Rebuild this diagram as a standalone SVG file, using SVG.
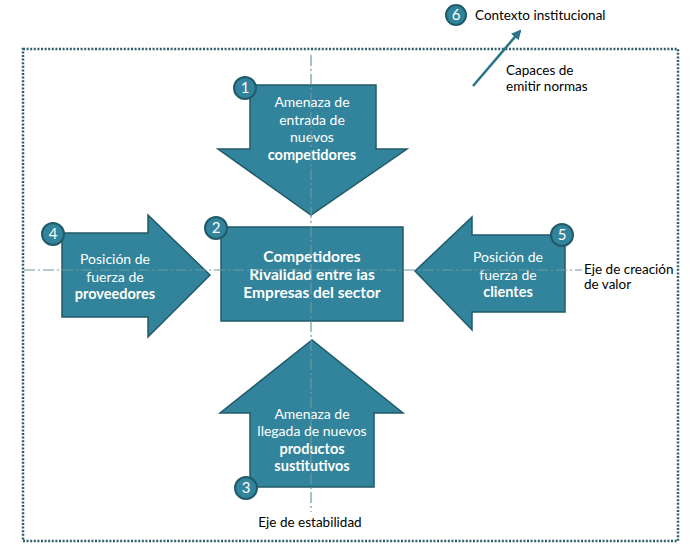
<svg xmlns="http://www.w3.org/2000/svg" width="690" height="553" viewBox="0 0 690 553">
<defs>
<style>
.shape{fill:#31849b;stroke:#215a69;stroke-width:1.5;stroke-linejoin:miter}
.badge{fill:#31849b;stroke:#215a69;stroke-width:2}
.num{font-family:Lato,"Open Sans",sans-serif;font-size:15px;fill:#ffffff;text-anchor:middle}
.wt{font-family:Lato,"Open Sans",sans-serif;font-size:14px;fill:#ffffff;text-anchor:middle}
.wb{font-family:Lato,"Open Sans",sans-serif;font-size:14.5px;font-weight:bold;fill:#ffffff;text-anchor:middle}
.ct{font-family:Lato,"Open Sans",sans-serif;font-size:15.5px;font-weight:bold;fill:#ffffff;text-anchor:middle}
.bt{font-family:Lato,"Open Sans",sans-serif;font-size:13.5px;fill:#000000}
.axis{stroke:#6f97a2;stroke-width:1.2;stroke-dasharray:11 3 2 3;fill:none}
</style>
<marker id="ah" viewBox="0 0 10 10" refX="8" refY="5" markerWidth="4" markerHeight="4" orient="auto">
<path d="M0,0 L10,5 L0,10 z" fill="#2a7485"/>
</marker>
</defs>
<rect width="690" height="553" fill="#ffffff"/>
<rect id="border" x="23" y="49" width="655" height="492" fill="none" stroke="#2f5f6b" stroke-width="2.5" stroke-dasharray="2 1.6"/>

<g id="node1">
<path class="shape" d="M250,85 L376,85 L376,149 L407,149 L311,215 L218,149 L250,149 Z"/>
<circle class="badge" cx="245" cy="88" r="11"/>
<text class="num" x="245" y="93">1</text>
<text class="wt" x="312" y="107">Amenaza  de</text>
<text class="wt" x="312" y="125">entrada de</text>
<text class="wt" x="312" y="142">nuevos</text>
<text class="wb" x="312" y="160">competidores</text>
</g>

<g id="node4">
<path class="shape" d="M62,233 L148,233 L148,215 L210,275 L148,337 L148,317 L62,317 Z"/>
<circle class="badge" cx="53" cy="234" r="11"/>
<text class="num" x="53" y="239">4</text>
<text class="wt" x="115" y="264">Posición de</text>
<text class="wt" x="115" y="282">fuerza de</text>
<text class="wb" x="115" y="299">proveedores</text>
</g>

<g id="node2">
<rect class="shape" x="221" y="227" width="182" height="94"/>
<circle class="badge" cx="216" cy="228" r="11"/>
<text class="num" x="216" y="233">2</text>
<text class="ct" x="312" y="262">Competidores</text>
<text class="ct" x="312" y="280">Rivalidad entre ias</text>
<text class="ct" x="312" y="298">Empresas del sector</text>
</g>

<g id="node5">
<path class="shape" d="M565,235 L472,235 L472,217 L415,271 L472,330 L472,312 L565,312 Z"/>
<circle class="badge" cx="562" cy="235" r="11"/>
<text class="num" x="562" y="240">5</text>
<text class="wt" x="508" y="262">Posición de</text>
<text class="wt" x="508" y="280">fuerza de</text>
<text class="wb" x="508" y="297">clientes</text>
</g>

<g id="node3">
<path class="shape" d="M250,487 L374,487 L374,413 L403,413 L312,340 L220,413 L250,413 Z"/>
<circle class="badge" cx="246" cy="488" r="11"/>
<text class="num" x="246" y="493">3</text>
<text class="wt" x="312" y="419">Amenaza de</text>
<text class="wt" x="312" y="436">llegada de nuevos</text>
<text class="wb" x="312" y="454">productos</text>
<text class="wb" x="312" y="471">sustitutivos</text>
</g>

<g id="node6">
<circle class="badge" cx="456" cy="15" r="10"/>
<text class="num" x="456" y="20">6</text>
<text class="bt" x="475" y="20">Contexto institucional</text>
</g>

<g id="labels">
<text class="bt" x="506" y="75">Capaces de</text>
<text class="bt" x="506" y="91">emitir normas</text>
<text class="bt" x="584" y="274">Eje de creación</text>
<text class="bt" x="584" y="289">de valor</text>
<text class="bt" x="310" y="527" text-anchor="middle">Eje de estabilidad</text>
</g>

<g id="connectors">
<line class="axis" x1="311" y1="55" x2="311" y2="512"/>
<line class="axis" x1="24" y1="270" x2="582" y2="270"/>
<line x1="473" y1="86" x2="520" y2="31" stroke="#2a7485" stroke-width="2.5" marker-end="url(#ah)"/>
</g>
</svg>
